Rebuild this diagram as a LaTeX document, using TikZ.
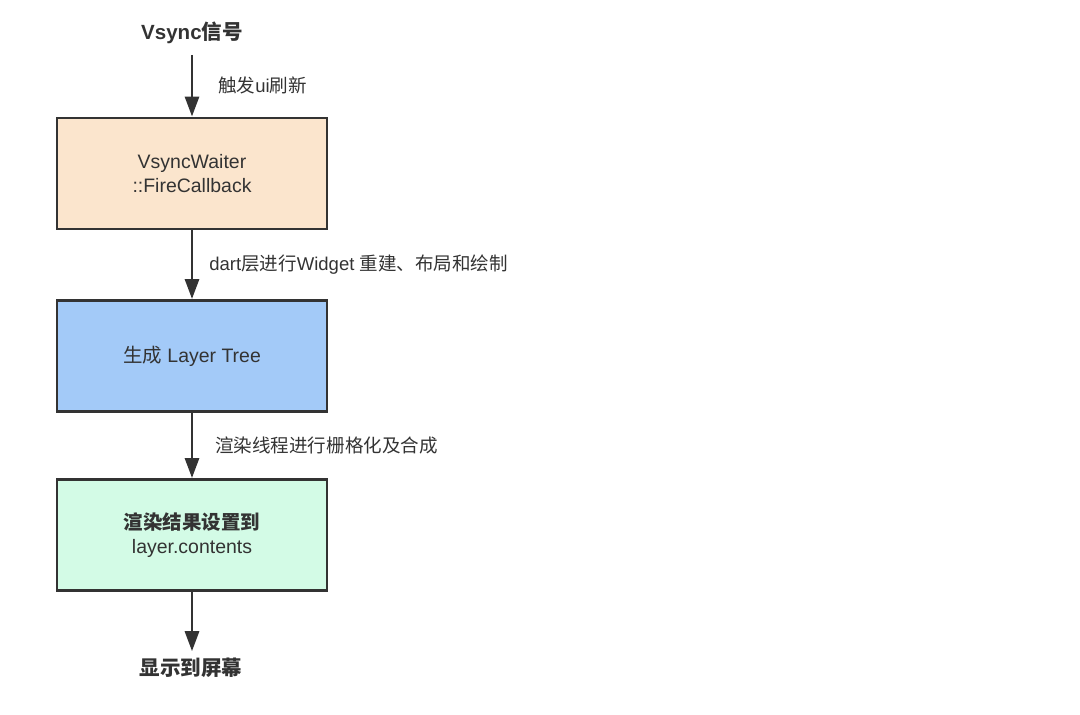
\documentclass[tikz,border=0pt]{standalone}
\usepackage{fontspec}
\setmainfont{Liberation Sans}
\newfontfamily\cjk{Noto Sans CJK SC}
\usetikzlibrary{arrows.meta}
\definecolor{ink}{HTML}{333333}
\definecolor{peach}{HTML}{FBE5CD}
\definecolor{skyblue}{HTML}{A3CAF8}
\definecolor{mint}{HTML}{D3FBE6}
\begin{document}
\begin{tikzpicture}[x=0.75pt,y=-0.75pt,
  box/.style={draw=ink, line width=2.2pt, minimum width=202.5pt, minimum height=83.25pt,
    text=ink, align=center, font=\fontsize{14.6pt}{17.5pt}\selectfont, inner sep=0pt},
  arr/.style={draw=ink, line width=2.2pt, -{Triangle[length=15pt,width=10.5pt]}},
  lbl/.style={anchor=west, text=ink, font=\fontsize{13.9pt}{16pt}\selectfont, inner sep=0pt},
  ttl/.style={text=ink, font=\fontsize{15.4pt}{18pt}\selectfont\bfseries, inner sep=0pt}]
\useasboundingbox (0,0) rectangle (1080,714);
\node[ttl] (top) at (192,33) {Vsync{\cjk 信号}};
\node[box, fill=peach] (b1) at (192,173.5) {VsyncWaiter\\::FireCallback};
\node[box, fill=skyblue] (b2) at (192,356) {{\cjk 生成} Layer Tree};
\node[box, fill=mint] (b3) at (192,535) {{\cjk\bfseries 渲染结果设置到}\\layer.contents};
\node[ttl] (bot) at (191,668) {\cjk\bfseries 显示到屏幕};
\draw[arr, shorten <=8pt] (top) -- (b1);
\draw[arr] (b1) -- (b2);
\draw[arr] (b2) -- (b3);
\draw[arr, shorten >=5pt] (b3.south) -- (b3.south |- bot.north);
\node[lbl] (l1) at (218,85) {{\cjk 触发}ui{\cjk 刷新}};
\node[lbl] (l2) at (209,265) {dart{\cjk 层进行}Widget {\cjk 重建、布局和绘制}};
\node[lbl] (l3) at (215,445) {\cjk 渲染线程进行栅格化及合成};
\end{tikzpicture}
\end{document}
